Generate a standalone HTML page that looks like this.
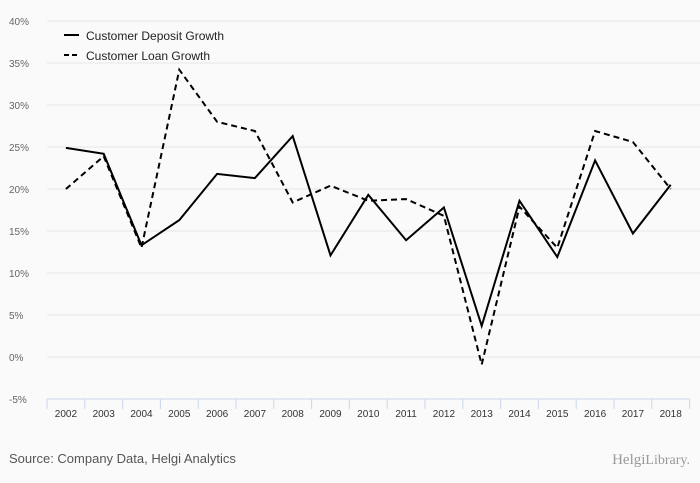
<!DOCTYPE html>
<html><head><meta charset="utf-8"><style>
body{margin:0;background:#fafafa;font-family:"Liberation Sans",sans-serif}
svg{display:block}
</style></head><body>
<svg id="c" width="700" height="483">
<rect width="700" height="483" fill="#fafafa"/>
<g id="grid"></g><g id="axes"></g><g id="series"></g>
<g>
<line x1="64" y1="35" x2="79" y2="35" stroke="#000" stroke-width="2"/>
<text x="86" y="40" font-size="12" fill="#222">Customer Deposit Growth</text>
<line x1="64" y1="55" x2="79" y2="55" stroke="#000" stroke-width="2" stroke-dasharray="5,3"/>
<text x="86" y="60" font-size="12" fill="#222">Customer Loan Growth</text>
</g>
<text x="9" y="463" font-size="13" fill="#555">Source: Company Data, Helgi Analytics</text>
<text x="690" y="464" font-size="15" fill="#999" text-anchor="end" font-family="Liberation Serif,serif">Helgi<tspan font-size="14">Library.</tspan></text>
</svg>
<script>
const years=["2002","2003","2004","2005","2006","2007","2008","2009","2010","2011","2012","2013","2014","2015","2016","2017","2018"];
const deposit=[24.9,24.2,13.3,16.3,21.8,21.3,26.3,12.1,19.3,13.9,17.8,3.7,18.6,11.9,23.4,14.7,20.5];
const loan=[20.0,23.9,13.0,34.2,28.0,26.9,18.4,20.4,18.6,18.8,16.8,-0.9,17.9,13.0,26.9,25.6,20.0];
const yTicks=[-5,0,5,10,15,20,25,30,35,40];
const NS="http://www.w3.org/2000/svg";
const x0=47,bw=37.8,y0=357,ppu=8.4;
const xs=i=>x0+bw*(i+0.5);
const ys=v=>y0-v*ppu;
function mk(t,a,p){const e=document.createElementNS(NS,t);for(const k in a)e.setAttribute(k,a[k]);p.appendChild(e);return e;}
const grid=document.getElementById('grid'),axes=document.getElementById('axes'),ser=document.getElementById('series');
yTicks.forEach(v=>{
 if(v>-5){const l=mk('line',{x1:x0,x2:700,y1:ys(v),y2:ys(v),stroke:'#e6e6e6'},grid);
 
 }
 const t=mk('text',{x:9,y:ys(v)+4,'font-size':10,fill:'#666'},axes);t.textContent=v+'%';
 
 
});
const ax=mk('line',{x1:x0,x2:x0+bw*years.length,y1:ys(-5),y2:ys(-5),stroke:'#ccd6eb'},axes);


years.forEach((y,i)=>{
 const tk=mk('line',{x1:x0+bw*i,x2:x0+bw*i,y1:ys(-5),y2:ys(-5)+10,stroke:'#ccd6eb'},axes);
 
 
 const t=mk('text',{x:xs(i),y:417,'font-size':10,fill:'#333','text-anchor':'middle'},axes);t.textContent=y;
 
 
});
const tk=mk('line',{x1:x0+bw*years.length,x2:x0+bw*years.length,y1:ys(-5),y2:ys(-5)+10,stroke:'#ccd6eb'},axes);


const p1=mk('polyline',{points:deposit.map((v,i)=>xs(i)+','+ys(v)).join(' '),fill:'none',stroke:'#000','stroke-width':2},ser);


const p2=mk('polyline',{points:loan.map((v,i)=>xs(i)+','+ys(v)).join(' '),fill:'none',stroke:'#000','stroke-width':2,'stroke-dasharray':'6,4'},ser);


</script>
</body></html>
